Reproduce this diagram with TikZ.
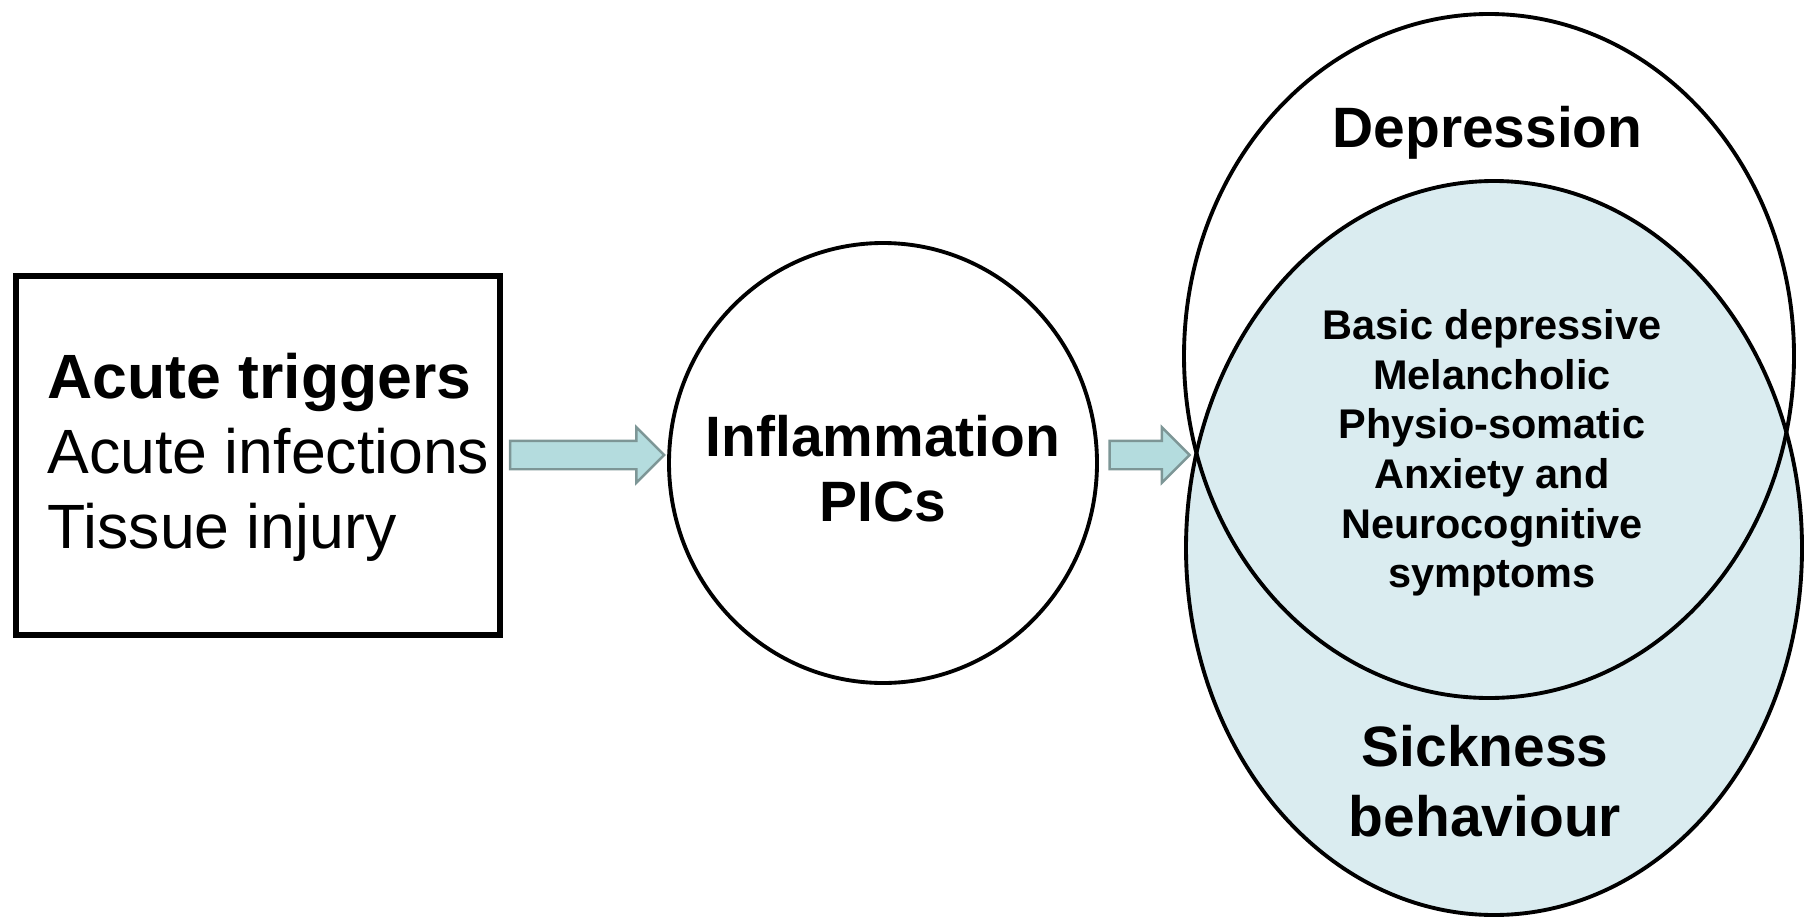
\documentclass[tikz,border=0pt]{standalone}
\usepackage{fontspec}
\setmainfont{Liberation Sans}
\usetikzlibrary{shapes.geometric, shapes.arrows}

\definecolor{sickfill}{RGB}{218,236,240}
\definecolor{arrowfill}{RGB}{180,220,222}
\definecolor{arrowline}{RGB}{125,150,150}

\begin{document}
\begin{tikzpicture}[
    outline/.style={draw, line width=1.1pt, ellipse, inner sep=0pt},
    blockarrow/.style={single arrow, draw=arrowline, fill=arrowfill, line width=0.7pt,
        inner xsep=0pt, inner ysep=0.13cm, single arrow head extend=0.135cm},
    boxtext/.style={font=\fontsize{17.8}{21.3}\selectfont, align=left, inner sep=0pt},
    headtext/.style={font=\bfseries\fontsize{16.2}{#1}\selectfont, align=center, inner sep=0pt},
    headtext/.default=18.5,
    listtext/.style={font=\bfseries\fontsize{11.8}{14.1}\selectfont, align=center, inner sep=0pt}
]
    \useasboundingbox (0,0) rectangle (18.04,9.17);

    % triggers
    \node[draw, line width=1.7pt, minimum width=4.84cm, minimum height=3.59cm] (box) at (2.58,4.615) {};
    \node[boxtext] (trig) at (2.685,4.60) {\textbf{Acute triggers}\\Acute infections\\Tissue injury};

    % inflammation
    \node[outline, minimum width=4.28cm, minimum height=4.40cm] (infl) at (8.83,4.54) {};
    \node[headtext] (infltxt) at (8.83,4.48) {Inflammation\\PICs};

    % overlapping syndromes
    \node[outline, fill=sickfill, minimum width=6.16cm, minimum height=7.34cm] (sick) at (14.94,3.69) {};
    \node[outline, minimum width=6.10cm, minimum height=6.84cm] (depr) at (14.89,5.61) {};
    \coordinate (meet) at (12.0,4.62);

    \node[headtext] (deprtxt) at (14.875,7.84) {Depression};
    \node[listtext] (symp) at (14.92,4.64)
        {Basic depressive\\Melancholic\\Physio-somatic\\Anxiety and\\Neurocognitive\\symptoms};
    \node[headtext=19.9] (sicktxt) at (14.85,1.356) {Sickness\\behaviour};

    \path (box.east |- 0,4.62) -- node[blockarrow, minimum height=1.54cm, xshift=-0.05cm] (arr1) {} (infl.west |- 0,4.62);
    \path (infl.east |- 0,4.62) -- node[blockarrow, minimum height=0.80cm, xshift=-0.07cm] (arr2) {} (meet);
\end{tikzpicture}
\end{document}
